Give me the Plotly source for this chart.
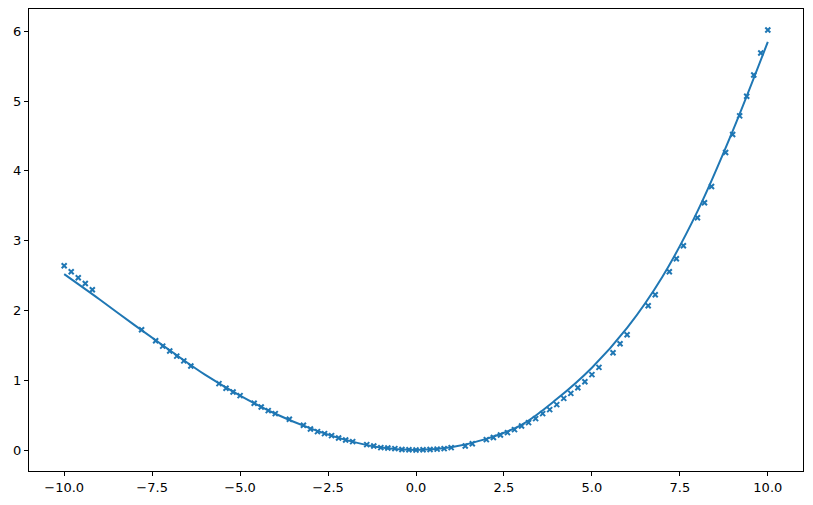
import plotly.graph_objects as go

pts_x = [-10.0, -9.8, -9.6, -9.4, -9.2, -7.8, -7.4, -7.2, -7.0, -6.8, -6.6, -6.4,
         -5.6, -5.4, -5.2, -5.0, -4.6, -4.4, -4.2, -4.0, -3.6, -3.2, -3.0, -2.8,
         -2.6, -2.4, -2.2, -2.0, -1.8, -1.4, -1.2, -1.0, -0.8, -0.6, -0.4, -0.2,
         0.0, 0.2, 0.4, 0.6, 0.8, 1.0, 1.4, 1.6, 2.0, 2.2, 2.4, 2.6, 2.8, 3.0,
         3.2, 3.4, 3.6, 3.8, 4.0, 4.2, 4.4, 4.6, 4.8, 5.0, 5.2, 5.6, 5.8, 6.0,
         6.6, 6.8, 7.2, 7.4, 7.6, 8.0, 8.2, 8.4, 8.8, 9.0, 9.2, 9.4, 9.6, 9.8, 10.0]
pts_y = [2.640, 2.555, 2.470, 2.387, 2.297, 1.724, 1.567, 1.489, 1.418, 1.346, 1.277, 1.203,
         0.951, 0.884, 0.831, 0.779, 0.669, 0.616, 0.564, 0.521, 0.440, 0.354, 0.301, 0.263,
         0.235, 0.206, 0.172, 0.143, 0.120, 0.077, 0.057, 0.034, 0.029, 0.020, 0.008, 0.003,
         0.000, 0.003, 0.008, 0.012, 0.020, 0.034, 0.057, 0.090, 0.149, 0.178, 0.215, 0.249, 0.292, 0.344,
         0.392, 0.450, 0.521, 0.579, 0.650, 0.740, 0.812, 0.893, 0.979, 1.080, 1.184, 1.395, 1.524, 1.653,
         2.068, 2.225, 2.555, 2.741, 2.927, 3.328, 3.543, 3.776, 4.263, 4.521, 4.789, 5.070, 5.376, 5.690, 6.020]

# Fitted curve
fit_x = [-10, -9, -8, -7, -6, -5, -4, -3, -2, -1, 0, 1, 2, 3, 4, 5, 6, 7, 8, 9, 10]
fit_y = [2.52, 2.16, 1.79, 1.43, 1.08, 0.78, 0.52, 0.31, 0.145, 0.035, 0.0,
         0.04, 0.16, 0.36, 0.73, 1.18, 1.75, 2.48, 3.42, 4.57, 5.85]

# Axis ticks
x_tickvals = [-10.0, -7.5, -5.0, -2.5, 0.0, 2.5, 5.0, 7.5, 10.0]
x_ticktext = ["\u221210.0", "\u22127.5", "\u22125.0", "\u22122.5", "0.0", "2.5", "5.0", "7.5", "10.0"]
y_tickvals = [0, 1, 2, 3, 4, 5, 6]
y_ticktext = ["0", "1", "2", "3", "4", "5", "6"]

blue = "#1f77b4"

fig = go.Figure()
fig.add_trace(go.Scatter(
    x=pts_x, y=pts_y, mode="markers",
    marker=dict(symbol="x-thin", size=5, color=blue, line=dict(width=2, color=blue)),
    showlegend=False, hoverinfo="skip"))
fig.add_trace(go.Scatter(
    x=fit_x, y=fit_y, mode="lines",
    line=dict(color=blue, width=2, shape="spline", smoothing=1.0),
    showlegend=False, hoverinfo="skip"))

axis_common = dict(
    showgrid=False, zeroline=False, showline=True, mirror=True,
    linecolor="black", linewidth=1, ticks="outside", ticklen=4, tickwidth=1,
    tickcolor="black", tickfont=dict(family="DejaVu Sans", size=13, color="black"),
)
fig.update_xaxes(range=[-11, 11], tickmode="array", tickvals=x_tickvals, ticktext=x_ticktext,
                 **axis_common)
fig.update_yaxes(range=[-0.301, 6.321], tickmode="array", tickvals=y_tickvals, ticktext=y_ticktext,
                 **axis_common)

fig.update_layout(
    width=813, height=505,
    margin=dict(l=29, r=10, t=9, b=34),
    plot_bgcolor="white", paper_bgcolor="white",
    font=dict(family="DejaVu Sans", size=13, color="black"),
)

fig.write_html("out.html")
